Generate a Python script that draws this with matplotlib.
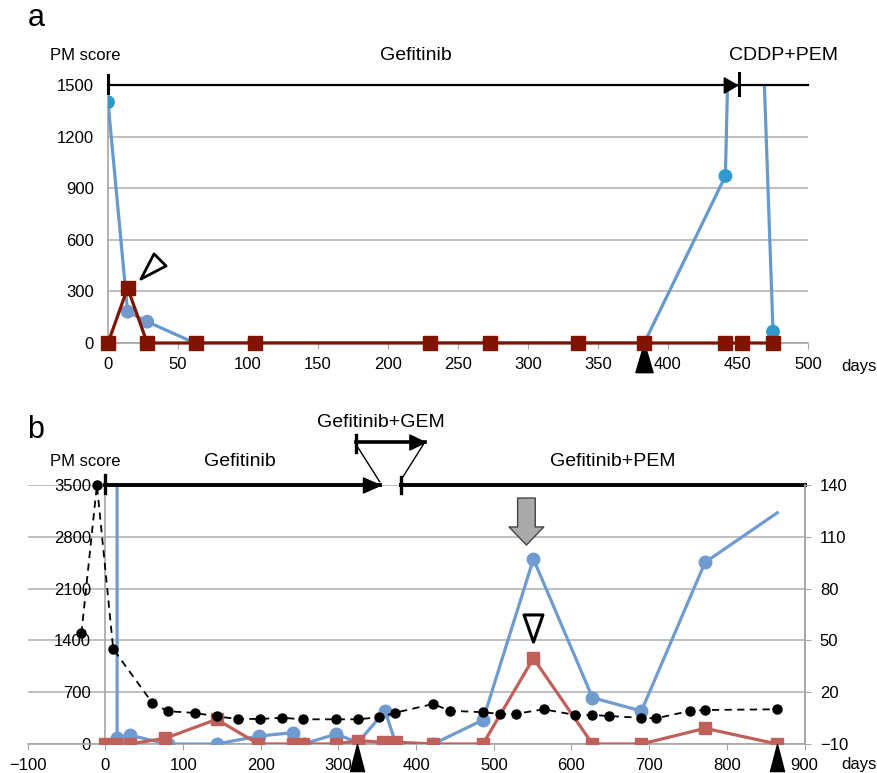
import numpy as np
import matplotlib
matplotlib.use('Agg')
import matplotlib.pyplot as plt
from matplotlib.path import Path
from matplotlib.markers import MarkerStyle
from matplotlib.transforms import Affine2D

plt.rcParams['font.family'] = ['Liberation Sans', 'DejaVu Sans']

# ---- panel a data ----
a_blue_days = [0, 14, 28, 62, 104, 230, 272, 336, 383, 441, 453, 475]
a_blue_vals = [1400, 182, 124, 0, 0, 0, 0, 0, 0, 971, 5200, 66]
a_red_days = [0, 14, 28, 63, 105, 230, 273, 336, 383, 441, 453, 475]
a_red_vals = [0, 320, 0, 0, 0, 0, 0, 0, 0, 0, 0, 0]
a_gef = (0, 449)        # Gefitinib period
a_cddp = (451, 500)     # CDDP+PEM period
a_event_days = [383]
a_xticks = np.arange(0, 501, 50)
a_yticks = np.arange(0, 1501, 300)

# ---- panel b data ----
b_blue_days = [14, 15, 31, 80, 143, 198, 241, 255, 297, 325, 360, 374, 422,
               486, 551, 627, 690, 772, 865]
b_blue_vals = [40000, 77, 120, 0, 0, 108, 153, 0, 135, 20, 446, 0, 0,
               324, 2500, 626, 446, 2455, 3125]
b_red_days = [0, 14, 31, 77, 143, 197, 241, 254, 297, 325, 357, 374, 422,
              486, 551, 627, 690, 772, 865]
b_red_vals = [0, 0, 0, 77, 333, 0, 0, 0, 0, 45, 25, 25, 0,
              0, 1158, 0, 0, 212, 0]
b_black_days = [-31, -11, 10, 60, 80, 115, 143, 170, 199, 227, 254, 297, 325,
                352, 373, 422, 443, 486, 508, 528, 564, 605, 627, 648, 689,
                709, 752, 772, 865]
b_black_vals = [54, 140, 45, 14, 9, 8, 6, 4.5, 4.5, 5.2, 4.3, 4.3, 4.3,
                5.5, 8.1, 13.2, 9.3, 8.4, 7.4, 7.4, 10.1, 6.8, 6.8, 6.2, 5.2,
                4.9, 9.1, 9.7, 10.1]
b_gef = (0, 353)        # Gefitinib
b_gem = (323, 411)      # Gefitinib+GEM
b_pem = (380, 900)      # Gefitinib+PEM
b_event_days = [324, 865]
b_flag_day = 542
b_xticks = np.arange(-100, 901, 100)
b_yticks = np.arange(0, 3501, 700)
b_y2ticks = np.arange(-10, 141, 30)

W, H = 878, 773
GRID = '#B4B4B4'
SPINE = '#A6A6A6'


def tri_marker(ratio, angle=0, tip_origin=False):
    # elongated triangle pointing up, optionally rotated
    if tip_origin:
        verts = [(0, 0), (ratio / 2, -1), (-ratio / 2, -1), (0, 0)]
    else:
        verts = [(0, 0.5), (ratio / 2, -0.5), (-ratio / 2, -0.5), (0, 0.5)]
    path = Path(verts, [Path.MOVETO, Path.LINETO, Path.LINETO, Path.CLOSEPOLY])
    return MarkerStyle(path, transform=Affine2D().rotate_deg(angle))


def px(x, y):
    return x / W, 1 - y / H


fig = plt.figure(figsize=(W / 100, H / 100), dpi=100)

# ================= panel a =================
ax = fig.add_axes([108 / W, 430 / H, 700 / W, 258 / H])
ax.set_xlim(0, 500)
ax.set_ylim(0, 1500)
ax.set_xticks(a_xticks)
ax.set_yticks(a_yticks)
ax.yaxis.grid(True, color=GRID, lw=1.2)
ax.set_axisbelow(True)
for s in ['top', 'right']:
    ax.spines[s].set_visible(False)
for s in ['left', 'bottom']:
    ax.spines[s].set_color(SPINE)
    ax.spines[s].set_linewidth(1.2)
ax.tick_params(axis='y', length=0, pad=10, labelsize=12)
ax.tick_params(axis='x', length=4, color=SPINE, direction='out', pad=6, labelsize=12)

ax.plot(a_blue_days, a_blue_vals, color='#6699CC', lw=2.3, zorder=3)
mcol = ['#3399CC', '#7399CC', '#7399CC'] + ['#6699CC'] * 6 + ['#3399CC'] * 3
ax.scatter(a_blue_days, a_blue_vals, s=80, c=mcol, zorder=3)
ax.plot(a_red_days, a_red_vals, color='#801400', lw=2.3, marker='s', ms=9.5,
        zorder=4, clip_on=False)

# treatment timeline
ax.plot([a_gef[0], a_cddp[1]], [1500, 1500], color='k', lw=1.6, clip_on=False, zorder=5)
ax.plot([a_gef[0]] * 2, [1453, 1558], color='k', lw=2.2, clip_on=False, zorder=5)
ax.plot(a_gef[1], 1500, marker=tri_marker(1.15, -90, True), ms=19, color='k',
        clip_on=False, zorder=5)
ax.plot([a_cddp[0]] * 2, [1442, 1570], color='k', lw=2.2, clip_on=False, zorder=5)

# annotations
ax.plot(29.8, 433, marker=tri_marker(0.63, 135), ms=19.5, mfc='white', mec='k',
        mew=2.0, zorder=6, clip_on=False)
ax.plot(a_event_days, [0] * len(a_event_days), ls='none',
        marker=tri_marker(0.59, 0, True), ms=42, color='k', clip_on=False, zorder=3)

fig.text(*px(85, 55), 'PM score', ha='center', va='center', fontsize=12)
fig.text(*px(416, 55), 'Gefitinib', ha='center', va='center', fontsize=14)
fig.text(*px(783, 55), 'CDDP+PEM', ha='center', va='center', fontsize=14)
fig.text(*px(859, 366), 'days', ha='center', va='center', fontsize=12)
fig.text(*px(36, 18), 'a', ha='center', va='center', fontsize=22)

# ================= panel b =================
bx = fig.add_axes([27.8 / W, 29 / H, 776.7 / W, 259 / H])
bx.set_xlim(-100, 900)
bx.set_ylim(0, 3500)
bx.set_xticks(b_xticks)
bx.set_yticks(b_yticks)
bx.yaxis.grid(True, color=GRID, lw=1.2)
bx.set_axisbelow(True)
bx.spines['top'].set_visible(False)
bx.spines['right'].set_color(SPINE)
bx.spines['left'].set_position(('data', 0))
for s in ['left', 'bottom', 'right']:
    bx.spines[s].set_color(SPINE)
    bx.spines[s].set_linewidth(1.2)
bx.tick_params(axis='y', length=0, pad=10.5, labelsize=12)
bx.tick_params(axis='x', length=4, color=SPINE, direction='out', pad=6, labelsize=12)

bx.plot(b_blue_days, b_blue_vals, color='#6F9BD1', lw=2.3, marker='o', ms=9,
        markevery=list(range(1, len(b_blue_days) - 1)), zorder=3)
bx.plot(b_red_days, b_red_vals, color='#C0605A', lw=2.3, marker='s', ms=9, zorder=4)

# treatment timeline
bx.plot([b_gef[0], b_gef[1]], [3500, 3500], color='k', lw=2.8, clip_on=False, zorder=5)
bx.plot([b_gef[0]] * 2, [3392, 3635], color='k', lw=2.4, clip_on=False, zorder=5)
bx.plot(b_gef[1], 3500, marker=tri_marker(0.88, -90, True), ms=24.5, color='k',
        clip_on=False, zorder=5)
bx.plot([b_pem[0], b_pem[1]], [3500, 3500], color='k', lw=2.8, clip_on=False, zorder=5)
bx.plot([b_pem[0]] * 2, [3392, 3608], color='k', lw=2.4, clip_on=False, zorder=5)
bx.plot([b_gem[0], b_gem[1]], [4085, 4085], color='k', lw=2.6, clip_on=False, zorder=5)
bx.plot([b_gem[0]] * 2, [3946, 4176], color='k', lw=2.4, clip_on=False, zorder=5)
bx.plot(b_gem[1], 4085, marker=tri_marker(0.96, -90, True), ms=22.5, color='k',
        clip_on=False, zorder=5)
bx.plot([b_gem[0], b_gef[1]], [4041, 3545], color='k', lw=1.0, clip_on=False, zorder=5)
bx.plot([b_gem[1], b_pem[0]], [4077, 3560], color='k', lw=1.0, clip_on=False, zorder=5)

# annotations
bx.annotate('', xy=(b_flag_day, 2689), xytext=(b_flag_day, 3324),
            arrowprops=dict(arrowstyle='simple,head_length=1.3,head_width=2.5,tail_width=1.27',
                            mutation_scale=10, fc='#AAAAAA', ec='#444444', lw=1,
                            shrinkA=0, shrinkB=0), annotation_clip=False, zorder=6)
bx.plot(551, 1561, marker=tri_marker(0.7, 180), ms=19.5, mfc='white', mec='k',
        mew=2.2, zorder=6)
bx.plot(b_event_days, [0] * len(b_event_days), ls='none',
        marker=tri_marker(0.52, 0, True), ms=39, color='k', clip_on=False, zorder=6)

# right axis
b2 = bx.twinx()
b2.set_ylim(-10, 140)
b2.set_yticks(b_y2ticks)
for s in ['top', 'left']:
    b2.spines[s].set_visible(False)
b2.spines['right'].set_color(SPINE)
b2.spines['right'].set_linewidth(1.2)
b2.spines['bottom'].set_visible(False)
b2.tick_params(axis='y', length=4, color=SPINE, pad=7, labelsize=12)
b2.plot(b_black_days, b_black_vals, color='k', lw=1.3, ls=(0, (4, 3)),
        marker='o', ms=6.5, clip_on=False, zorder=7)

fig.text(*px(85, 462), 'PM score', ha='center', va='center', fontsize=12)
fig.text(*px(240, 462), 'Gefitinib', ha='center', va='center', fontsize=14)
fig.text(*px(381, 423), 'Gefitinib+GEM', ha='center', va='center', fontsize=14)
fig.text(*px(613, 462), 'Gefitinib+PEM', ha='center', va='center', fontsize=14)
fig.text(*px(859, 764), 'days', ha='center', va='center', fontsize=12)
fig.text(*px(36, 430), 'b', ha='center', va='center', fontsize=22)

fig.savefig('out.png', dpi=100)
